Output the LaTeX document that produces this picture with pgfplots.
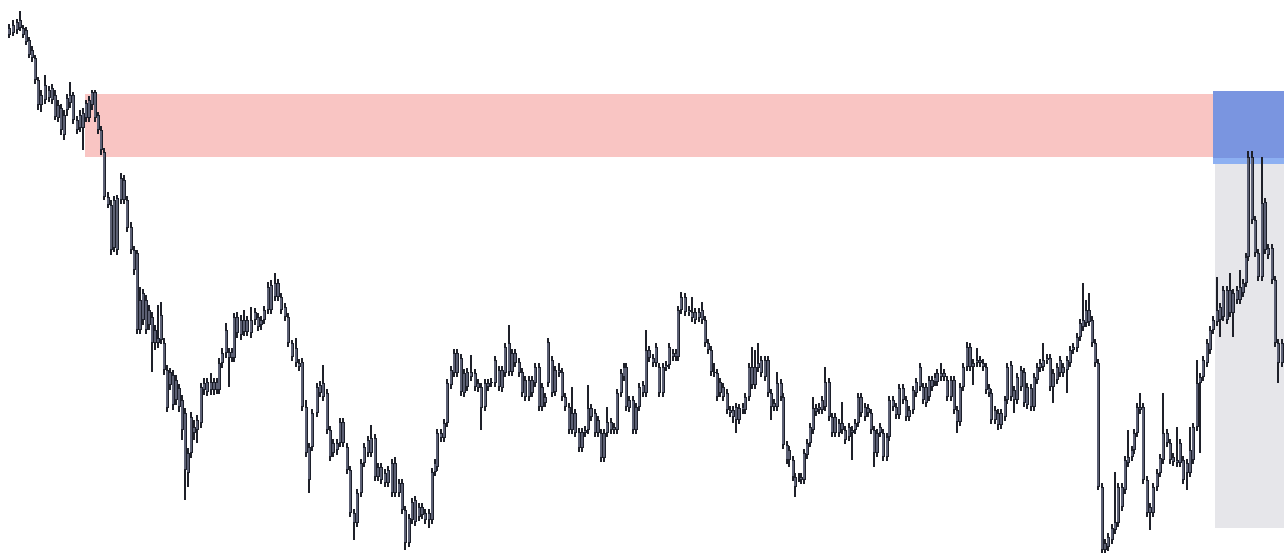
\documentclass[border=0pt]{standalone}
\usepackage{pgfplots}
\pgfplotsset{compat=1.18}
\usepackage{pgfplotstable}

\definecolor{zonepink}{HTML}{F9C5C3}
\definecolor{zoneblue}{HTML}{7A95E0}
\definecolor{zonebluelt}{HTML}{8DB0F2}
\definecolor{zonegray}{HTML}{E6E6EA}
\definecolor{wickc}{HTML}{1E2029}
\definecolor{bodyout}{HTML}{1C1F2A}
\definecolor{bodyin}{HTML}{5C6074}

% candles in picture units: x, body top/bottom, wick top/bottom (y grows downward)
\pgfplotstableread{
x bt bb wt wb
9 28 35 24 38
13 25 33 20 36
17 22 30 19 34
20 20 28 11 31
23 28 35 25 38
26 30 42 27 45
29 40 55 37 58
32 50 58 46 62
35 58 80 55 84
38 80 105 77 110
41 95 105 90 112
45 85 100 75 104
49 90 98 86 102
52 88 100 84 104
55 95 117 90 120
58 105 118 100 122
61 108 130 104 135
64 115 135 110 140
67 98 110 94 116
70 95 103 82 108
73 95 120 92 124
77 120 130 116 134
80 115 128 110 132
83 113 128 108 150
86 103 118 100 122
89 100 118 96 122
92 92 105 90 110
95 92 118 90 122
98 115 130 112 134
101 130 150 126 155
104 152 197 148 200
108 197 205 192 208
111 205 250 200 255
114 200 248 196 252
117 198 250 195 255
121 178 200 173 204
124 180 200 175 204
127 200 228 196 232
131 227 250 222 254
134 250 270 246 275
137 253 330 250 334
140 300 330 287 334
143 293 320 289 325
146 300 330 295 334
149 310 325 305 330
152 317 343 312 372
155 330 343 325 350
158 338 343 305 348
161 315 340 302 344
164 343 370 338 375
167 370 408 365 412
170 372 385 368 390
173 375 405 370 410
176 380 400 375 405
179 388 407 384 412
182 400 430 395 440
185 413 470 408 500
188 453 473 448 487
191 417 453 412 458
194 427 433 420 440
197 420 430 415 443
201 387 423 383 428
204 383 390 378 395
207 382 392 378 396
211 382 390 373 395
214 382 390 378 395
217 382 390 378 394
219 363 390 358 394
222 353 363 348 368
226 330 353 323 358
229 352 358 348 387
232 352 358 348 362
234 317 358 313 362
237 317 333 312 338
241 320 335 315 340
244 320 332 310 336
247 320 332 316 336
251 320 333 307 338
255 312 320 308 325
258 317 327 313 331
261 320 325 316 330
264 310 320 306 324
268 287 310 282 314
271 285 310 280 314
275 283 297 273 301
278 283 297 279 301
281 297 310 293 314
285 307 317 303 321
288 317 343 313 347
292 343 357 340 361
296 348 363 338 367
299 363 367 359 371
302 362 407 358 411
306 407 453 400 457
309 447 480 443 493
312 413 447 409 451
317 387 413 383 417
320 385 393 381 397
323 383 397 365 401
327 393 430 389 434
330 430 457 426 461
333 443 453 439 457
337 443 450 439 455
340 422 443 418 447
343 422 443 418 447
347 447 470 443 474
350 470 513 466 517
354 513 523 509 540
357 493 523 489 527
361 463 493 459 497
364 447 463 443 467
368 440 453 436 457
371 438 453 425 457
375 438 477 434 481
378 467 477 463 481
381 467 480 463 484
385 473 483 469 487
388 470 483 466 487
392 463 493 459 497
395 463 493 457 497
399 483 493 479 497
402 483 510 479 514
405 510 543 506 550
409 518 543 514 547
412 502 520 498 524
415 500 522 496 526
419 507 517 503 521
422 507 515 503 519
425 513 520 509 524
429 513 520 509 528
432 472 520 468 524
435 463 472 459 476
437 433 467 429 471
441 433 438 429 442
444 423 438 419 442
447 383 423 379 427
451 370 385 366 389
454 353 373 349 377
457 353 373 349 377
461 358 392 354 396
464 373 393 369 397
467 372 387 368 391
471 372 377 355 381
475 373 387 369 391
478 383 388 379 392
481 387 408 383 430
485 383 407 379 411
488 383 387 379 391
491 382 383 378 387
495 360 383 356 387
499 370 387 366 391
502 370 388 366 392
505 347 373 343 377
509 343 372 325 376
512 353 372 349 376
515 353 363 349 367
519 362 373 358 377
522 372 393 368 397
525 380 397 376 401
529 380 397 376 401
532 380 393 376 397
535 367 383 363 387
539 367 407 363 411
542 387 407 383 411
545 397 403 393 407
548 342 383 338 387
552 360 393 356 397
555 370 392 366 396
559 370 373 363 377
562 372 397 368 401
565 397 407 393 411
569 407 430 403 434
572 413 430 387 434
575 413 433 409 437
579 432 448 428 452
582 432 448 428 452
585 430 433 426 437
588 408 430 385 434
591 408 417 404 421
595 413 433 409 437
598 420 433 416 437
601 433 458 429 462
604 433 458 429 462
607 422 433 407 437
611 422 430 418 434
614 427 430 423 434
617 393 430 389 434
621 373 393 369 397
624 367 377 363 381
626 367 407 363 411
629 400 408 396 412
633 400 430 396 434
636 407 430 403 434
639 387 407 383 411
643 385 393 381 397
646 350 393 330 397
649 350 358 346 362
653 358 363 354 367
656 347 363 343 367
659 367 393 363 397
663 367 393 363 397
666 365 367 361 371
669 347 365 343 369
673 353 357 349 361
676 353 357 349 361
678 310 357 306 361
681 297 310 292 314
685 297 312 293 316
689 310 312 306 316
692 312 318 297 322
695 312 320 308 324
699 312 318 308 322
702 310 320 302 324
705 320 343 316 347
708 343 350 339 354
711 350 372 346 376
714 372 373 363 377
717 373 397 369 401
720 382 393 378 397
723 387 397 383 401
727 393 410 389 414
730 410 413 406 417
733 410 417 406 423
736 407 420 403 433
739 408 420 404 424
743 407 410 403 414
745 397 410 393 414
749 367 397 363 401
752 367 385 347 389
755 367 385 350 389
758 363 368 343 372
761 360 373 356 377
765 360 377 356 381
768 360 393 356 397
771 393 407 389 420
774 403 407 399 411
777 383 407 372 411
781 383 397 379 401
783 397 445 393 449
787 445 460 441 464
789 450 460 446 467
793 460 477 456 481
795 477 487 473 497
799 477 478 473 482
801 477 480 473 484
804 453 480 449 484
807 443 455 439 459
810 427 443 423 447
813 408 430 397 434
816 408 412 404 416
819 407 410 403 414
822 400 410 396 414
825 382 407 367 411
829 382 417 378 421
832 417 433 413 437
835 417 433 413 437
839 423 433 419 437
842 423 430 402 434
845 430 440 426 444
849 427 437 423 441
852 430 433 426 460
855 423 430 419 434
858 397 423 393 427
861 397 413 393 417
865 407 417 403 421
868 408 413 404 417
871 413 430 409 434
874 430 453 426 467
877 433 453 429 457
880 427 433 423 437
883 433 457 429 461
887 437 457 433 461
889 400 437 396 441
893 400 407 396 411
896 407 415 403 419
899 388 415 384 419
903 388 400 384 404
906 400 417 396 421
909 410 417 406 421
913 390 410 386 414
916 382 393 378 397
920 367 387 363 391
923 387 400 383 404
926 387 403 383 407
929 380 397 376 401
932 380 387 376 391
935 377 382 373 386
937 373 382 369 386
941 373 377 363 381
944 373 377 369 381
947 380 397 376 401
951 380 397 376 401
954 380 410 376 414
957 410 422 406 433
960 387 422 383 426
963 367 387 363 391
967 347 367 342 371
970 347 367 343 371
973 363 367 359 385
977 360 363 348 367
980 360 363 356 367
983 363 367 359 371
986 367 390 363 394
989 388 393 384 397
991 393 420 389 424
995 410 420 406 424
998 413 425 409 430
1001 413 425 409 429
1005 400 417 396 421
1007 367 400 363 404
1011 365 397 361 401
1014 390 400 386 413
1017 377 400 373 404
1021 370 387 366 391
1024 372 403 368 407
1027 387 405 383 409
1031 388 407 384 411
1034 377 407 373 411
1037 367 380 363 384
1040 363 368 359 372
1043 360 367 343 371
1047 358 360 354 364
1050 358 387 354 391
1053 373 387 369 403
1057 367 380 363 384
1060 360 373 356 377
1063 367 373 363 377
1067 360 370 356 393
1070 350 363 346 367
1073 347 350 343 354
1077 337 348 333 352
1080 323 337 319 341
1083 320 327 283 331
1086 310 323 300 327
1089 310 322 293 326
1092 320 343 316 347
1095 343 363 339 367
1098 363 487 359 490
1102 487 550 483 553
1105 543 550 539 553
1108 537 547 533 551
1112 528 540 524 544
1115 522 530 472 534
1118 487 523 483 527
1122 487 507 483 511
1125 460 490 456 494
1128 457 463 430 467
1132 450 457 446 461
1134 433 450 429 454
1137 407 433 403 437
1140 407 410 393 414
1143 407 480 403 484
1147 480 513 476 517
1150 507 513 503 530
1153 487 513 483 517
1157 473 487 469 491
1160 458 473 454 477
1163 433 460 393 464
1167 433 443 429 447
1170 443 460 439 464
1173 457 462 453 466
1177 460 463 427 467
1180 443 463 439 467
1183 460 480 456 484
1187 463 473 459 490
1190 450 473 427 477
1193 427 460 423 464
1197 383 427 360 431
1200 377 383 373 453
1203 360 377 356 381
1207 343 363 339 367
1210 330 350 326 354
1213 320 330 316 334
1217 310 322 277 326
1220 307 320 303 337
1223 290 317 286 321
1227 290 320 286 324
1230 290 313 273 317
1233 293 313 289 337
1237 290 300 286 304
1240 287 300 270 304
1243 283 293 279 297
1246 257 283 253 287
1248 157 257 151 261
1252 157 220 151 224
1255 220 253 216 257
1258 253 277 249 281
1262 203 277 157 281
1265 202 250 198 254
1268 248 255 244 259
1272 248 280 244 284
1275 280 343 276 347
1278 343 363 339 383
1282 343 363 339 367
}\candles

\begin{document}
\begin{tikzpicture}
\begin{axis}[
  width=12.84cm, height=5.53cm,
  scale only axis,
  xmin=0, xmax=1284,
  ymin=0, ymax=553,
  y dir=reverse,
  axis lines=none,
  ticks=none,
  clip=true,
  axis background/.style={fill=white},
]
% zones
\addplot[fill=zonepink, draw=none] coordinates {(85,94) (1213,94) (1213,157) (85,157)} -- cycle;
\addplot[fill=zonegray, draw=none] coordinates {(1215,164) (1284,164) (1284,528) (1215,528)} -- cycle;
\addplot[fill=zoneblue, draw=none] coordinates {(1213,91) (1284,91) (1284,159) (1213,159)} -- cycle;
\addplot[fill=zonebluelt, draw=none] coordinates {(1213,158) (1284,158) (1284,164) (1213,164)} -- cycle;

% wicks
\addplot[draw=none, mark=none,
  error bars/.cd, y dir=plus, y explicit, error mark=none,
  error bar style={draw=wickc, line width=0.11mm}]
  table[x=x, y=wt, y error plus expr=\thisrow{wb}-\thisrow{wt}] {\candles};
% bodies: dark outline, gray core
\addplot[draw=none, mark=none,
  error bars/.cd, y dir=plus, y explicit, error mark=none,
  error bar style={draw=bodyout, line width=0.3mm}]
  table[x=x, y=bt, y error plus expr=\thisrow{bb}-\thisrow{bt}] {\candles};
\addplot[draw=none, mark=none,
  error bars/.cd, y dir=plus, y explicit, error mark=none,
  error bar style={draw=bodyin, line width=0.12mm}]
  table[x=x, y expr={\thisrow{bt}+0.9}, y error plus expr={max(\thisrow{bb}-\thisrow{bt}-1.8,0)}] {\candles};
\end{axis}
\end{tikzpicture}
\end{document}
